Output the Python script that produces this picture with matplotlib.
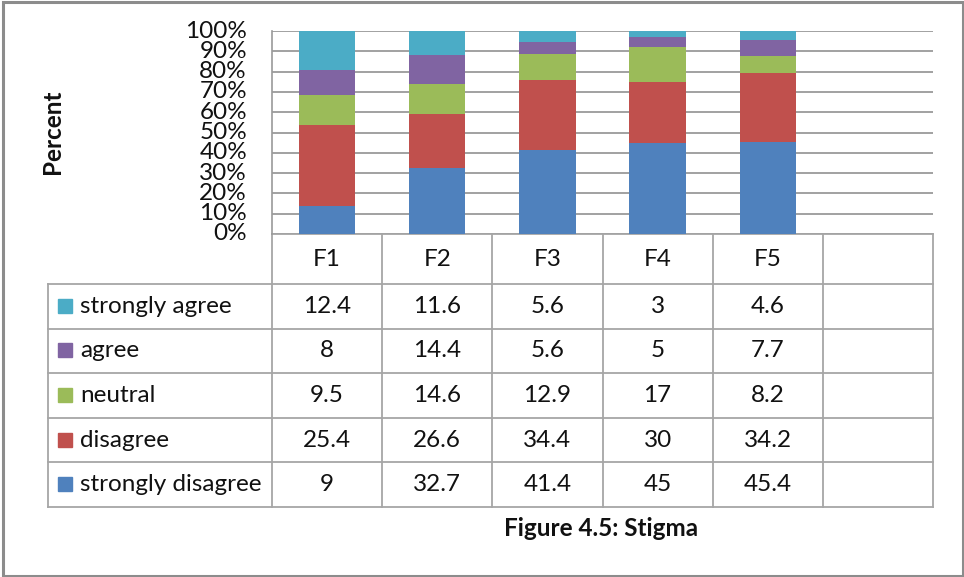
import matplotlib
matplotlib.use("Agg")
import matplotlib.pyplot as plt
from matplotlib.patches import Rectangle

categories = ["F1", "F2", "F3", "F4", "F5", ""]
series_names = ["strongly agree", "agree", "neutral", "disagree", "strongly disagree"]
strongly_agree = [12.4, 11.6, 5.6, 3, 4.6]
agree = [8, 14.4, 5.6, 5, 7.7]
neutral = [9.5, 14.6, 12.9, 17, 8.2]
disagree = [25.4, 26.6, 34.4, 30, 34.2]
strongly_disagree = [9, 32.7, 41.4, 45, 45.4]
y_ticks = list(range(0, 101, 10))

colors = {
    "strongly disagree": "#4F81BD",
    "disagree": "#C0504D",
    "neutral": "#9BBB59",
    "agree": "#8064A2",
    "strongly agree": "#4BACC6",
}
series = {
    "strongly agree": strongly_agree,
    "agree": agree,
    "neutral": neutral,
    "disagree": disagree,
    "strongly disagree": strongly_disagree,
}

plt.rcParams["font.family"] = ["Lato", "DejaVu Sans"]
FS = 17.5
TXT = "#111111"

W, H = 964, 577
fig = plt.figure(figsize=(W / 100, H / 100), dpi=100)

# pixel-space overlay axes for frame, table and captions
ov = fig.add_axes([0, 0, 1, 1])
ov.set_xlim(0, W)
ov.set_ylim(H, 0)
ov.axis("off")

# plot area (pixel box)
px0, px1, py0, py1 = 272, 933, 31, 234
ax = fig.add_axes([px0 / W, 1 - py1 / H, (px1 - px0) / W, (py1 - py0) / H])
n_cat = len(categories)
ax.set_xlim(-0.5, n_cat - 0.5)
ax.set_ylim(0, 100)

# 100% stacked bars, bottom to top
order = ["strongly disagree", "disagree", "neutral", "agree", "strongly agree"]
n_bars = len(strongly_agree)
totals = [sum(series[s][i] for s in order) for i in range(n_bars)]
bottoms = [0.0] * n_bars
for name in order:
    vals = [series[name][i] / totals[i] * 100 for i in range(n_bars)]
    ax.bar(range(n_bars), vals, bottom=bottoms, width=0.51,
           color=colors[name], edgecolor="none", zorder=3)
    bottoms = [b + v for b, v in zip(bottoms, vals)]

ax.set_yticks(y_ticks)
ax.set_yticklabels([f"{t}%" for t in y_ticks], fontsize=FS, color=TXT)
ax.tick_params(axis="y", length=0, pad=18)
ax.tick_params(axis="x", length=0, labelbottom=False)
ax.yaxis.grid(True, color="#9a9a9a", linewidth=1.3, zorder=0)
for side in ["top", "right", "bottom"]:
    ax.spines[side].set_visible(False)
ax.spines["left"].set_color("#9a9a9a")
ax.spines["left"].set_linewidth(1.2)
for lbl in ax.get_yticklabels():
    lbl.set_verticalalignment("center")

# Y axis title
ov.text(53, 132, "Percent", rotation=90, ha="center", va="center",
        fontsize=FS, fontweight="bold", color=TXT)

# data table
line_kw = dict(color="#a6a6a6", linewidth=1.3)
col_w = (px1 - px0) / n_cat
col_x = [px0 + i * col_w for i in range(n_cat + 1)]
head_top, head_bot = 234, 284
table_left, table_bot = 48, 507
row_h = (table_bot - head_bot) / len(series_names)
row_y = [head_bot + i * row_h for i in range(len(series_names) + 1)]

# header row
ov.plot([px0, px1], [head_top, head_top], **line_kw)
for x in col_x:
    ov.plot([x, x], [head_top, table_bot], **line_kw)
for i, c in enumerate(categories):
    ov.text((col_x[i] + col_x[i + 1]) / 2, (head_top + head_bot) / 2 + 1, c,
            ha="center", va="center", fontsize=FS, color=TXT)

# body rows
for y in row_y:
    ov.plot([table_left, px1], [y, y], **line_kw)
ov.plot([table_left, table_left], [head_bot, table_bot], **line_kw)

for r, name in enumerate(series_names):
    yc = (row_y[r] + row_y[r + 1]) / 2
    ov.add_patch(Rectangle((58, yc - 7.5), 14, 14, color=colors[name], zorder=3))
    ov.text(80, yc, name, ha="left", va="center", fontsize=FS, color=TXT)
    for i, v in enumerate(series[name]):
        ov.text((col_x[i] + col_x[i + 1]) / 2, yc, f"{v:g}",
                ha="center", va="center", fontsize=FS, color=TXT)

# caption
ov.text(601, 528, "Figure 4.5: Stigma", ha="center", va="center",
        fontsize=FS, fontweight="bold", color=TXT)

# outer frame
ov.add_patch(Rectangle((3, 1.5), 960, 574.5, fill=False,
                       edgecolor="#8c8c8c", linewidth=2.2))

fig.savefig("out.png", dpi=100)
